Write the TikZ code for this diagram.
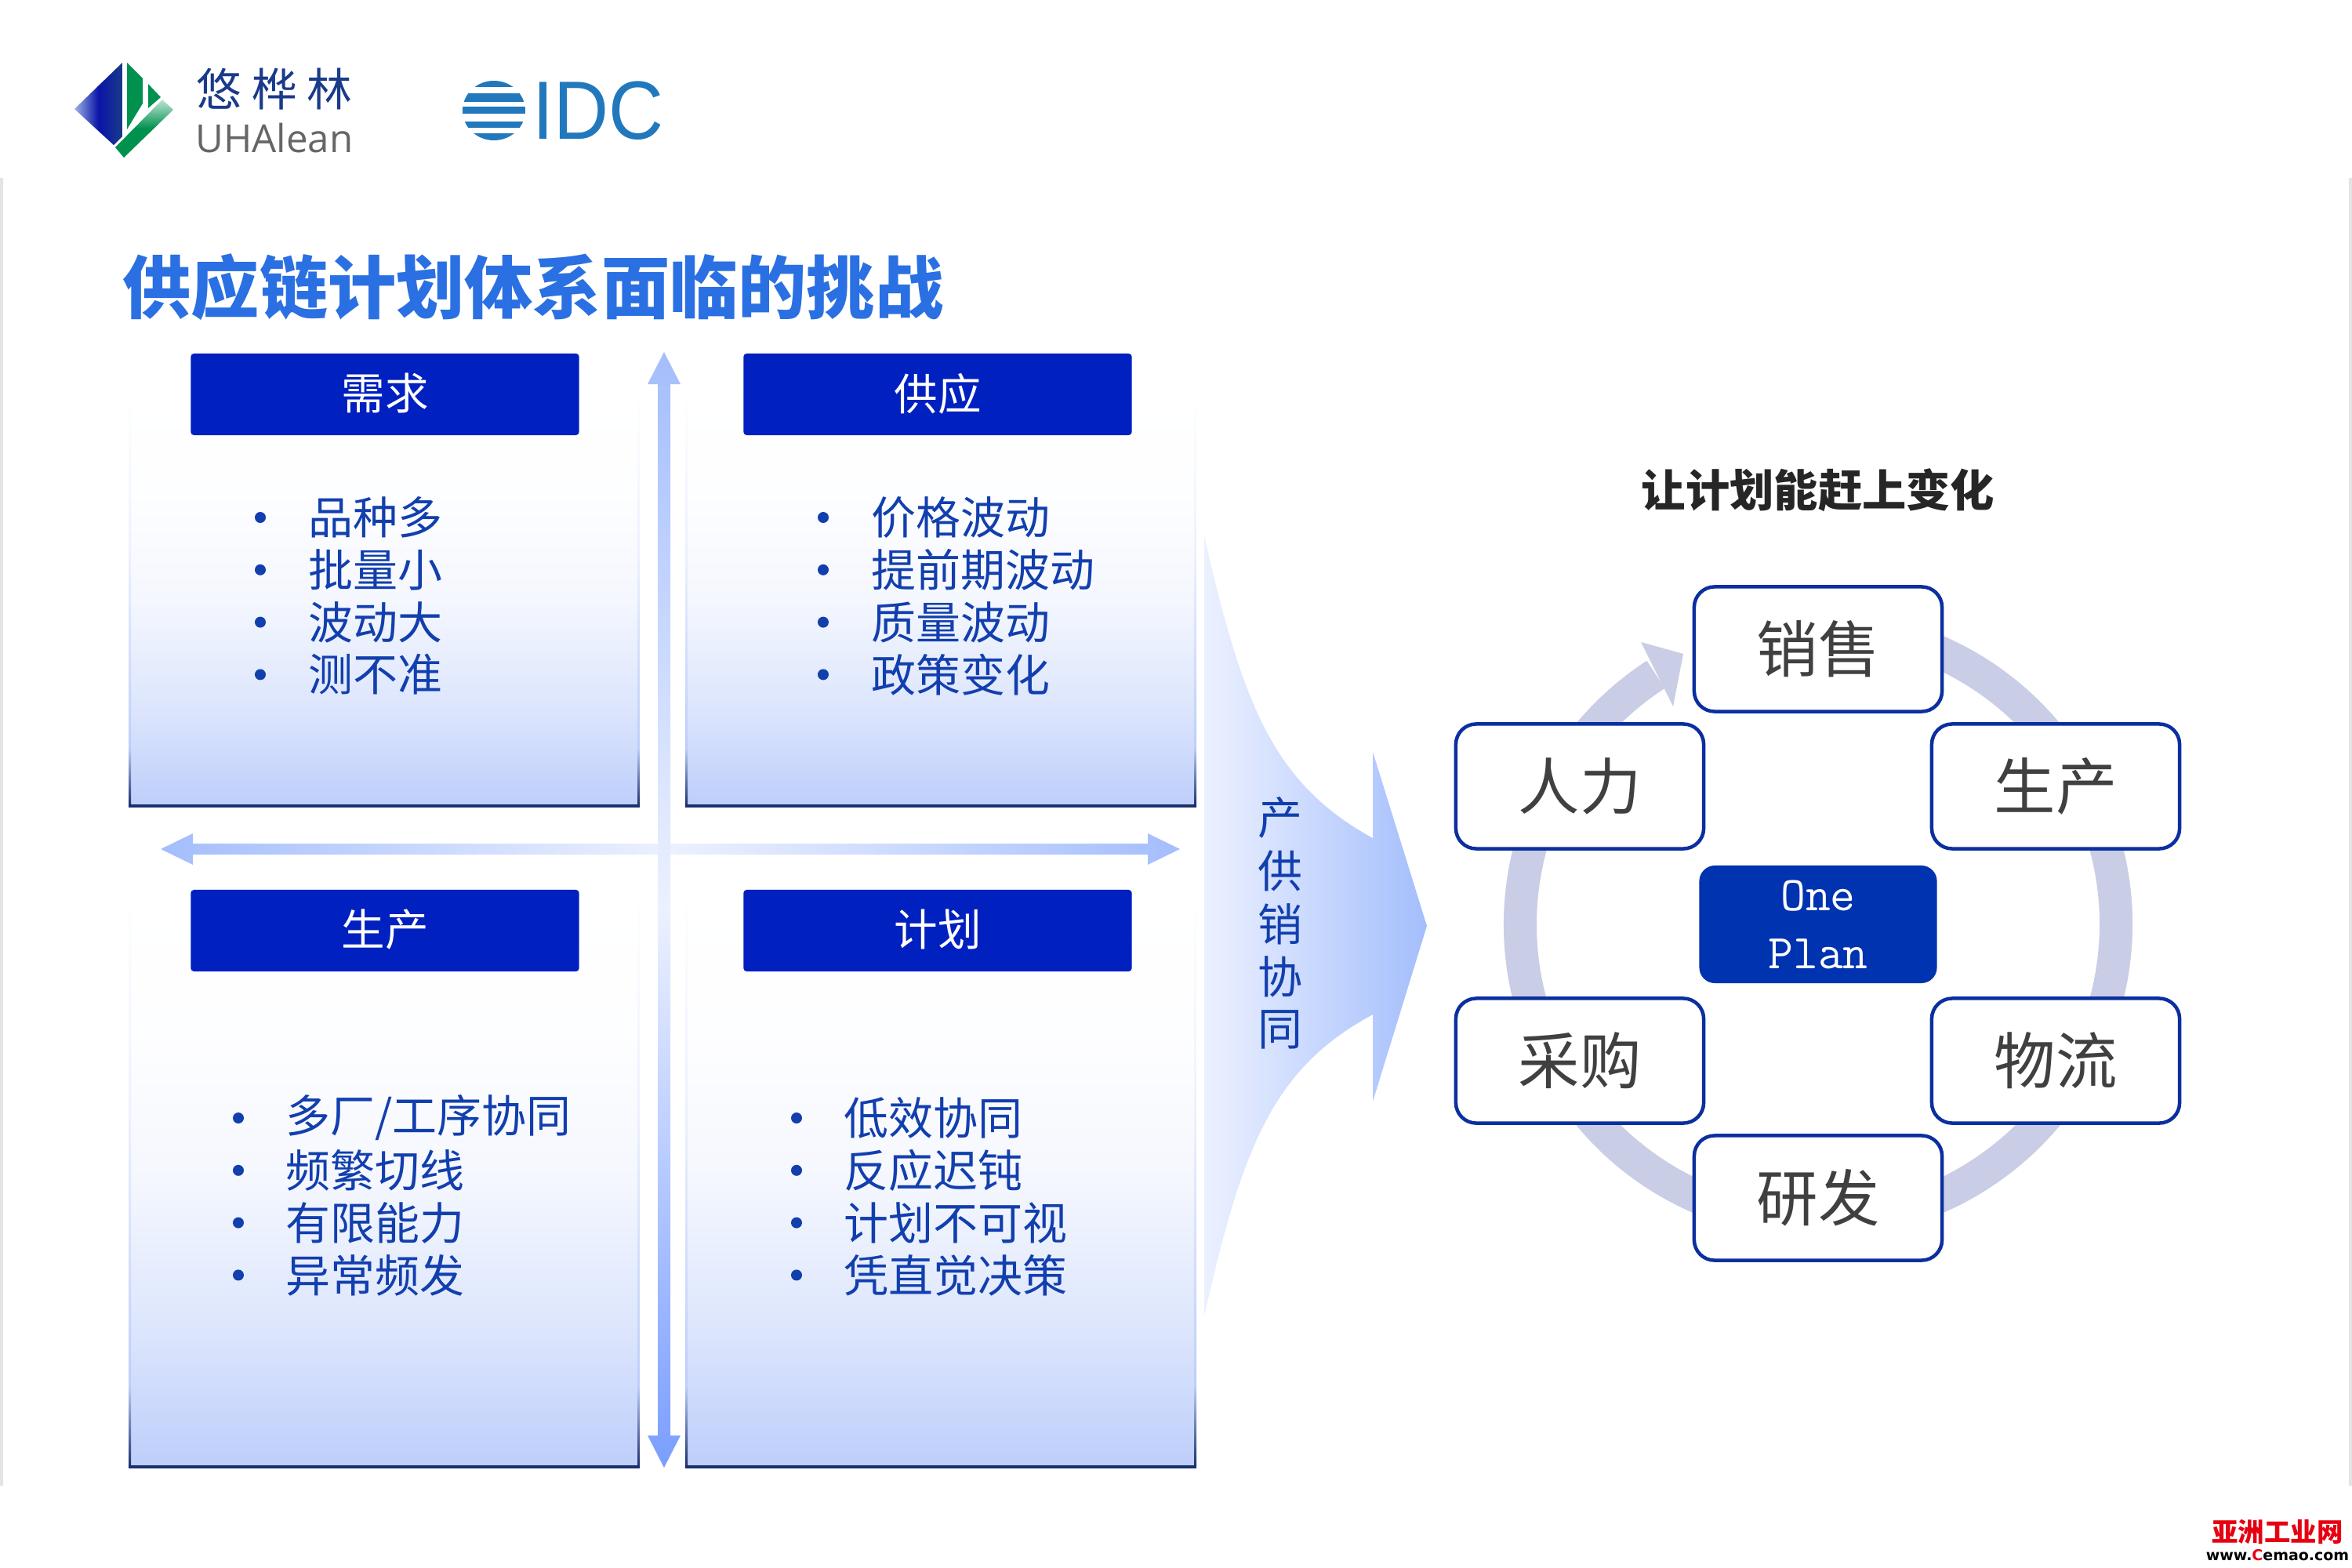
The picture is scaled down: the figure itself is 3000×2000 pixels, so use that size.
\documentclass[tikz,border=0pt]{standalone}
\usepackage{fontspec}
\usepackage{xcolor}
\setmainfont{Noto Sans CJK SC}
\setmonofont{Latin Modern Mono}
\newfontfamily\logofont{Open Sans}
\newfontfamily\idcfont{Liberation Sans}
\newfontfamily\markfont{DejaVu Sans}
\usetikzlibrary{calc}
\definecolor{headblue}{HTML}{0020C0}
\definecolor{titleblue}{HTML}{2A70E2}
\definecolor{itemblue}{HTML}{123FAE}
\definecolor{panelend}{HTML}{BDCEFA}
\definecolor{edgeblue}{HTML}{1B2F6E}
\definecolor{arrowblue}{HTML}{A4BEFC}
\definecolor{arrowdeep}{HTML}{7A9EFF}
\definecolor{arrowpale}{HTML}{ECF1FF}
\definecolor{ringgrey}{HTML}{C9CDE5}
\definecolor{ringedge}{HTML}{0B2F9F}
\definecolor{oneblue}{HTML}{0033B0}
\definecolor{labelgrey}{HTML}{404040}
\definecolor{logonavy}{HTML}{1A3A8A}
\definecolor{logopale}{HTML}{9DB2E6}
\definecolor{logoblue}{HTML}{0A14A8}
\definecolor{logogreen}{HTML}{00914F}
\definecolor{idcblue}{HTML}{2278BC}
\definecolor{framegrey}{HTML}{E4E4E4}
\definecolor{markred}{HTML}{E60012}
\pgfdeclareverticalshading{panelfade}{100bp}{
  color(0bp)=(panelend); color(25bp)=(panelend);
  color(37bp)=(panelend!52!white); color(50bp)=(panelend!16!white);
  color(62bp)=(panelend!3!white); color(75bp)=(white); color(100bp)=(white)}
\pgfdeclareverticalshading{edgefade}{100bp}{
  color(0bp)=(edgeblue); color(25bp)=(edgeblue);
  color(32bp)=(panelend); color(55bp)=(panelend!30!white);
  color(75bp)=(white); color(100bp)=(white)}
\tikzset{
  panel/.style={shading=panelfade},
  panelside/.style={shading=edgefade},
  headbox/.style={
    fill=headblue, text=white, rounded corners=0.04cm, inner sep=0pt,
    minimum width=4.95cm, minimum height=1.04cm,
    font=\fontsize{15.8}{18}\selectfont
  },
  item/.style={
    anchor=west, inner sep=0pt, text=itemblue,
    font=\fontsize{16.2}{19}\selectfont
  },
  dot/.style={circle, fill=itemblue, inner sep=0pt, minimum size=0.14cm},
  ringbox/.style={
    draw=ringedge, line width=0.045cm, fill=white, rounded corners=0.26cm,
    minimum width=3.16cm, minimum height=1.59cm, inner sep=0pt,
    text=labelgrey, font=\fontsize{22.3}{25}\selectfont
  },
  onebox/.style={
    fill=oneblue, text=white, rounded corners=0.2cm, align=center, inner sep=0pt,
    minimum width=3.03cm, minimum height=1.5cm,
    font=\ttfamily\fontsize{17.6}{21}\selectfont
  }
}

\begin{document}
\begin{tikzpicture}[x=0.01cm,y=-0.01cm]
  \useasboundingbox (0,0) rectangle (3000,2000);

  % slide edges
  \fill[framegrey] (0,227) rectangle (4,1895);
  \fill[framegrey] (2996,227) rectangle (3000,1895);

  % logos
  \shade[left color=logopale, right color=logonavy, middle color=logoblue]
    (156,80) -- (95,139) -- (145,185) -- (156,174) -- cycle;
  \fill[logogreen] (162,80) -- (182,100) -- (182,132) -- (162,165) -- cycle;
  \fill[logogreen] (189,107) -- (205,124) -- (189,138) -- cycle;
  \shade[top color=logogreen!25!white, bottom color=logogreen, middle color=logogreen]
    (207,127) -- (221,140) -- (158,201) -- (147,188) -- cycle;
  \node[inner sep=0pt, text=logonavy, font=\fontsize{16.4}{19}\selectfont] (uhacn) at (350,114)
    {悠\kern0.22em 桦\kern0.22em 林};
  \node[inner sep=0pt, text=black!60, font=\logofont\fontsize{14}{17}\selectfont] (uhaen) at (350,176) {UHAlean};
  \begin{scope}
    \clip (630,141) ellipse [x radius=40, y radius=38];
    \foreach \ya/\yb in {103/111,119/130,136/145,155/163,170/179}
      \fill[idcblue] (585,\ya) rectangle (675,\yb);
  \end{scope}
  \node[inner sep=0pt, text=idcblue, xscale=0.92, font=\idcfont\fontsize{30}{36}\selectfont] (idc) at (763,141) {IDC};

  \node[anchor=west, inner sep=0pt, text=titleblue, font=\bfseries\fontsize{24.8}{30}\selectfont] (title) at (156,366)
    {供应链计划体系面临的挑战};

  % four panels
  \foreach \xa/\xb/\ya/\yb in {165/815/500/1028,875/1525/500/1028,165/815/1136/1871,875/1525/1136/1871}{
    \shade[panel] (\xa,\ya) rectangle (\xb,\yb);
    \shade[panelside] (\xa-1,\ya) rectangle (\xa+2,\yb);
    \shade[panelside] (\xb-2,\ya) rectangle (\xb+1,\yb);
    \fill[edgeblue] (\xa-1,\yb-2) rectangle (\xb+1,\yb+2);
  }

  \node[headbox] (demand) at (491,503) {\raisebox{2pt}{需求}};
  \node[headbox] (supply) at (1196,503) {\raisebox{2pt}{供应}};
  \node[headbox] (making) at (491,1187) {\raisebox{2pt}{生产}};
  \node[headbox] (plan) at (1196,1187) {\raisebox{2pt}{计划}};

  \foreach \tag/\bx/\tx/\ty/\items in {
    dem/332/393/660/{品种多,批量小,波动大,测不准},
    sup/1050/1111/660/{价格波动,提前期波动,质量波动,政策变化},
    mak/304/364/1426/{多厂/工序协同,频繁切线,有限能力,异常频发},
    pla/1016/1076/1426/{低效协同,反应迟钝,计划不可视,凭直觉决策}}{
    \foreach \lbl [count=\i from 0] in \items {
      \node[dot] (\tag-dot-\i) at (\bx,{\ty+66.8*\i}) {};
      \node[item] (\tag-\i) at (\tx,{\ty+66.8*\i}) {\lbl};
    }
  }

  % cross arrows
  \shade[left color=arrowblue, right color=arrowblue, middle color=arrowpale]
    (205,1083) -- (246,1063) -- (246,1076) -- (1464,1076) -- (1464,1063) -- (1505,1083)
    -- (1464,1103) -- (1464,1090) -- (246,1090) -- (246,1103) -- cycle;
  \shade[top color=arrowblue, bottom color=arrowdeep, middle color=arrowpale]
    (847,449) -- (868,490) -- (855,490) -- (855,1831) -- (868,1831) -- (847,1872)
    -- (826,1831) -- (839,1831) -- (839,490) -- (826,490) -- cycle;

  % big arrow
  \shade[left color=arrowpale, right color=arrowblue]
    (1536,683) .. controls (1585,900) and (1625,1000) .. (1751,1069)
    -- (1751,959) -- (1820,1181) -- (1751,1405) -- (1751,1294)
    .. controls (1625,1362) and (1585,1460) .. (1536,1679) -- cycle;
  \foreach \lbl [count=\i from 0] in {产,供,销,协,同}
    \node[inner sep=0pt, text=itemblue, font=\fontsize{16.2}{18}\selectfont] (sync-\i) at (1633,{1043+67.7*\i}) {\lbl};

  % ring
  \node[inner sep=0pt, text=black!85, font=\bfseries\fontsize{16}{19}\selectfont] (goal) at (2319,625) {让计划能赶上变化};
  \coordinate (ringc) at (2319,1179);
  \draw[ringgrey, line width=0.42cm] ([shift={(-123:380)}]ringc) arc[start angle=-123, end angle=-445, radius=380];
  \fill[ringgrey] (2093,819) -- (2147,834) -- (2134,901) -- cycle;

  \node[ringbox] (sales) at (2319,828) {销售};
  \node[ringbox] (people) at (2015,1003) {人力};
  \node[ringbox] (prod) at (2622,1003) {生产};
  \node[ringbox] (buy) at (2015,1353) {采购};
  \node[ringbox] (logi) at (2622,1353) {物流};
  \node[ringbox] (rnd) at (2319,1528) {研发};
  \node[onebox] (one) at (2319,1179) {One\\Plan};

  % watermark
  \node[inner sep=0pt, text=markred, font=\bfseries\fontsize{9.5}{11}\selectfont] (mark) at (2905,1954) {亚洲工业网};
  \node[inner sep=0pt, font=\markfont\bfseries\fontsize{5.4}{7}\selectfont] (site) at (2905,1984) {www.\textcolor{markred}{C}emao.com};
\end{tikzpicture}
\end{document}
